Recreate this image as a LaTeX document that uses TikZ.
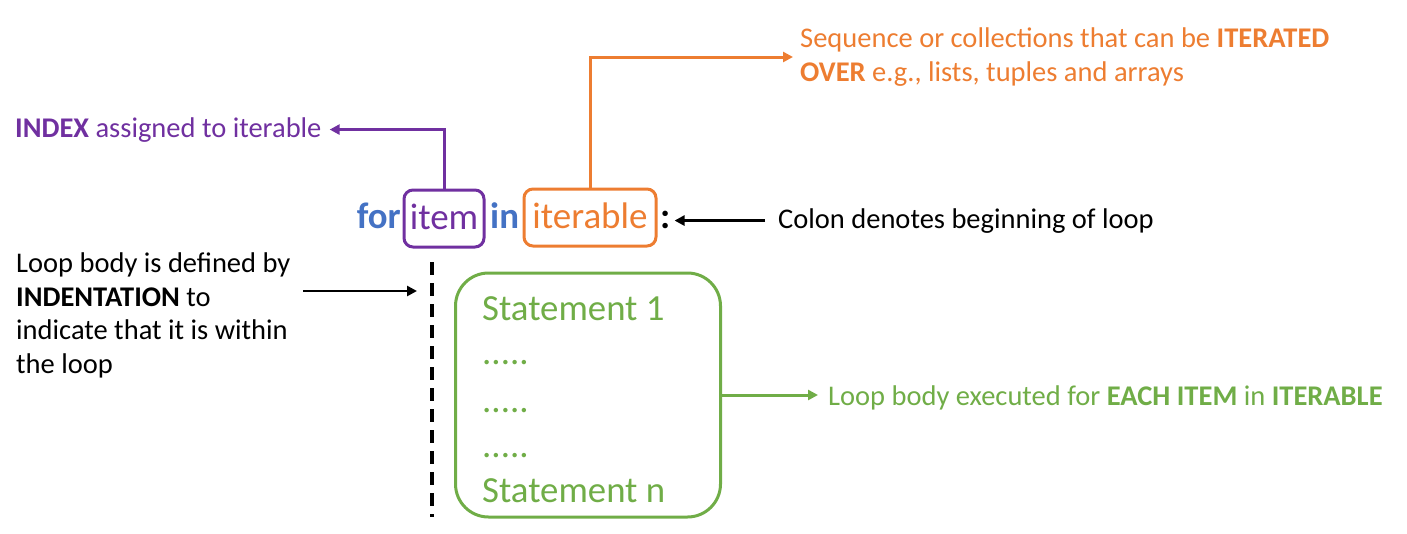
\documentclass[tikz,border=0pt]{standalone}
\usepackage{fontspec}
\setmainfont{Carlito}
\usetikzlibrary{arrows.meta}
\definecolor{kwblue}{HTML}{4472C4}
\definecolor{idxpurple}{HTML}{7030A0}
\definecolor{itorange}{HTML}{ED7D31}
\definecolor{bodygreen}{HTML}{70AD47}
\begin{document}
\begin{tikzpicture}[x=1pt,y=-1pt,
  lbl/.style={inner sep=0pt, font=\fontsize{28.5}{33.5}\selectfont},
  code/.style={inner sep=0pt, font=\fontsize{36.8}{40}\selectfont},
  tokbox/.style={draw, line width=3pt, rounded corners=9pt, minimum height=57pt, inner xsep=0pt, inner ysep=0pt, text height=25pt, text depth=4pt, font=\fontsize{37}{40}\selectfont},
  arr/.style={line width=2.5pt, -{Triangle[length=10pt,width=10pt]}}
]
\useasboundingbox (0,0) rectangle (1407,533);

% code line
\node[tokbox, draw=idxpurple, text=idxpurple, minimum width=80pt] (item) at (444,218.5) {item};
\node[tokbox, draw=itorange, text=itorange, minimum width=132pt] (iter) at (590,217.5) {iterable};
\node[code, text=kwblue, anchor=base east] (for) at (401,228.5) {\textbf{for}};
\node[code, text=kwblue, anchor=base west] (in) at (490,228.5) {\textbf{in}};
\node[code, anchor=base west] (colon) at (660,228.5) {\textbf{:}};

% colon annotation
\node[lbl, anchor=base west] (colontext) at (778,228) {Colon denotes beginning of loop};
\draw[arr] ([xshift=-13pt]colontext.west) -- ([xshift=4pt]colon.east |- colontext.west);

% index annotation
\node[lbl, text=idxpurple, anchor=base west] (index) at (15,137) {\textbf{INDEX} assigned to iterable};
\draw[arr, idxpurple, line width=3pt] (item.north) |- ([xshift=8pt]index.east);

% iterable annotation
\node[lbl, text=itorange, anchor=west, align=left] (seq) at (800,57) {Sequence or collections that can be \textbf{ITERATED}\\\textbf{OVER} e.g., lists, tuples and arrays};
\draw[arr, itorange, line width=3pt] (iter.north) |- ([xshift=-7pt]seq.west);

% indentation
\node[lbl, anchor=north west, align=left] (indent) at (16,253) {Loop body is defined by\\\textbf{INDENTATION} to\\indicate that it is within\\the loop};
\coordinate (dtop) at (432,262);
\coordinate (dbot) at (432,517);
\draw[line width=3.5pt, dash pattern=on 13pt off 8pt] (dtop) -- (dbot);
\coordinate (indstart) at (303,291);
\draw[arr] (indstart) -- ([xshift=-15pt]dtop |- indstart);

% loop body
\node[draw=bodygreen, line width=3pt, rounded corners=33pt, minimum width=265pt, minimum height=244pt, inner sep=0pt] (body) at (588,395) {};
\node[code, text=bodygreen, anchor=base west] (s1) at (482,320) {Statement 1};
\node[code, text=bodygreen, anchor=base west] (d1) at (482,364) {.....};
\node[code, text=bodygreen, anchor=base west] (d2) at (482,412) {.....};
\node[code, text=bodygreen, anchor=base west] (d3) at (482,457) {.....};
\node[code, text=bodygreen, anchor=base west] (sn) at (482,502) {Statement n};

\node[lbl, text=bodygreen, anchor=base west] (exec) at (828,405) {Loop body executed for \textbf{EACH ITEM} in \textbf{ITERABLE}};
\draw[arr, bodygreen, line width=3pt] (body.east) -- ([xshift=-10pt]exec.west |- body.east);
\end{tikzpicture}
\end{document}
